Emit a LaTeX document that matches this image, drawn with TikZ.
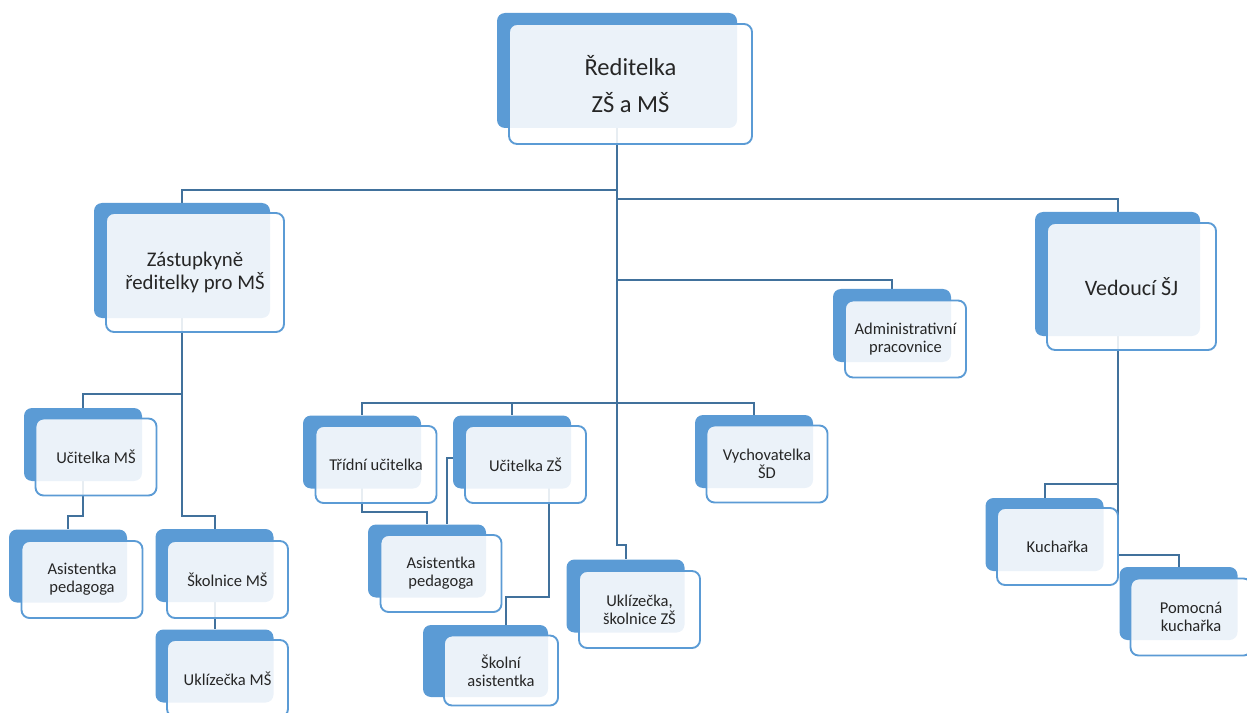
\documentclass[tikz,border=0pt]{standalone}
\usepackage{fontspec}
\setmainfont{Carlito}
\definecolor{boxblue}{RGB}{91,155,213}
\definecolor{lineblue}{RGB}{65,113,156}
\definecolor{txtgray}{RGB}{38,38,38}
\pgfdeclarelayer{lines}
\pgfsetlayers{lines,main}

\begin{document}
\begin{tikzpicture}[
        x=0.75pt, y=-0.75pt,
        back_box/.style={
            fill=boxblue,
            rounded corners=6pt,
            inner sep=0pt,
            minimum width=118*\px,
            minimum height=73*\px
        },
        front_box/.style={
            draw=boxblue,
            line width=1.4pt,
            fill=white,
            fill opacity=0.88,
            text opacity=1,
            text=txtgray,
            rounded corners=6pt,
            inner sep=0pt,
            align=center,
            minimum width=121*\px,
            minimum height=77*\px,
            font=\fontsize{12.4}{13.5}\selectfont
        },
        conn_line/.style={
            draw=lineblue,
            line width=1.5pt
        }
    ]
        \def\px{0.75pt}

        \useasboundingbox (0,0) rectangle (1247,713);

        % top level
        \node[back_box, minimum width=240*\px, minimum height=115*\px] (redB) at (617,70.5) {};
        \node[front_box, minimum width=243*\px, minimum height=120*\px, font=\fontsize{18.4}{27.75}\selectfont]
            (red) at (630.5,84) {Ředitelka\\ZŠ a MŠ};

        \node[back_box, minimum width=176*\px, minimum height=115*\px] (zastB) at (182,260.5) {};
        \node[front_box, minimum width=178*\px, minimum height=119*\px, font=\fontsize{15.6}{17.3}\selectfont]
            (zast) at (195,272.5) {Zástupkyně\\ředitelky pro MŠ};

        \node[back_box, minimum width=165*\px, minimum height=124*\px] (vedB) at (1117.5,274) {};
        \node[front_box, minimum width=169*\px, minimum height=127*\px, font=\fontsize{16.5}{18}\selectfont]
            (ved) at (1131.5,286.5) {Vedoucí ŠJ};

        \node[back_box] (adminB) at (892,325.5) {};
        \node[front_box] (admin) at (905.5,339) {Administrativní\\pracovnice};

        % MS branch
        \node[back_box] (ucMSB) at (83,444.5) {};
        \node[front_box] (ucMS) at (96,457) {Učitelka MŠ};

        \node[back_box] (asMSB) at (68,566) {};
        \node[front_box] (asMS) at (82,579.5) {Asistentka\\pedagoga};

        \node[back_box] (skMSB) at (214.5,565.5) {};
        \node[front_box] (skMS) at (227.5,579.5) {Školnice MŠ};

        \node[back_box] (ukMSB) at (214.5,666) {};
        \node[front_box] (ukMS) at (227.5,678.5) {Uklízečka MŠ};

        % ZS branch
        \node[back_box] (tridB) at (362,452) {};
        \node[front_box] (trid) at (376,464.5) {Třídní učitelka};

        \node[back_box] (ucZSB) at (512,452) {};
        \node[front_box] (ucZS) at (525.5,464.5) {Učitelka ZŠ};

        \node[back_box] (asZSB) at (427,561) {};
        \node[front_box] (asZS) at (441,573.5) {Asistentka\\pedagoga};

        \node[back_box, minimum width=125*\px, minimum height=72*\px] (skAsB) at (485.5,661) {};
        \node[front_box, minimum width=114*\px, minimum height=70*\px] (skAs) at (501,670.5) {Školní\\asistentka};

        \node[back_box] (ukZSB) at (625.5,596) {};
        \node[front_box] (ukZS) at (639.5,609.5) {Uklízečka,\\školnice ZŠ};

        \node[back_box] (vychB) at (754,451.5) {};
        \node[front_box] (vych) at (767,464) {Vychovatelka\\ŠD};

        % SJ branch
        \node[back_box] (kuchB) at (1044.5,534.5) {};
        \node[front_box] (kuch) at (1057.5,546.5) {Kuchařka};

        \node[back_box] (pomB) at (1178.5,603.5) {};
        \node[front_box] (pom) at (1191,617) {Pomocná\\kuchařka};

        \coordinate (ucZSout) at ([xshift=37*\px]ucZSB.center);
        \coordinate (asZSin) at ([xshift=20*\px]asZSB.north);
        \coordinate (skAsin) at ([xshift=20*\px]skAsB.north);

        \begin{pgfonlayer}{lines}
            \draw[conn_line] (redB.center) -- (redB.center |- 0,545) -| (ukZSB.north);
            \draw[conn_line] (redB.center |- 0,190) -| (zastB.north);
            \draw[conn_line] (redB.center |- 0,199) -| (vedB.north);
            \draw[conn_line] (redB.center |- 0,280) -| (adminB.north);
            \draw[conn_line] (redB.center |- 0,403) -| (tridB.north);
            \draw[conn_line] (redB.center |- 0,403) -| (ucZSB.north);
            \draw[conn_line] (redB.center |- 0,403) -| (vychB.north);

            \draw[conn_line] (zastB.center) -- (zastB.center |- 0,516) -| (skMSB.north);
            \draw[conn_line] (zastB.center |- 0,394) -| (ucMSB.north);
            \draw[conn_line] (ucMSB.center) -- (ucMSB.center |- 0,516) -| (asMSB.north);
            \draw[conn_line] (skMSB.center) -- (ukMSB.north);

            \draw[conn_line] (tridB.center) -- (tridB.center |- 0,512) -| (asZSB.north);
            \draw[conn_line] ([yshift=-6*\px]ucZSB.west) -| (asZSin);
            \draw[conn_line] (ucZSout) -- (ucZSout |- 0,597) -| (skAsin);

            \draw[conn_line] (vedB.center) -- (vedB.center |- 0,555) -| (pomB.north);
            \draw[conn_line] (vedB.center |- 0,484) -| (kuchB.north);
        \end{pgfonlayer}

    \end{tikzpicture}
\end{document}
